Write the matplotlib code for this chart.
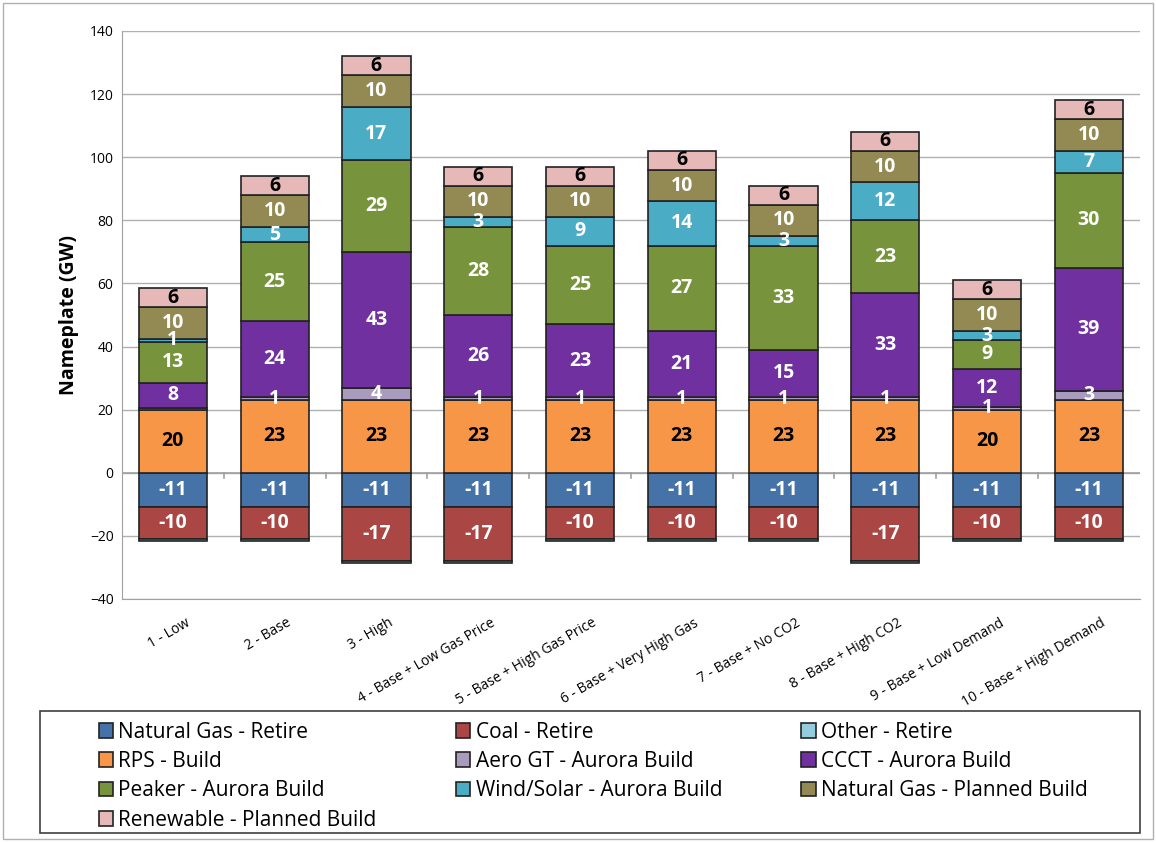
import matplotlib.pyplot as plt
import numpy as np
from matplotlib.patches import Rectangle
from matplotlib.transforms import ScaledTranslation

plt.rcParams['font.family'] = ['Open Sans', 'DejaVu Sans']

scenarios = ['1 - Low', '2 - Base', '3 - High', '4 - Base + Low Gas Price',
             '5 - Base + High Gas Price', '6 - Base + Very High Gas', '7 - Base + No CO2',
             '8 - Base + High CO2', '9 - Base + Low Demand', '10 - Base + High Demand']

# retirements (negative)
ng_retire = [-11, -11, -11, -11, -11, -11, -11, -11, -11, -11]
coal_retire = [-10, -10, -17, -17, -10, -10, -10, -17, -10, -10]
other_retire = [-0.5, -0.5, -0.5, -0.5, -0.5, -0.5, -0.5, -0.5, -0.5, -0.5]

# builds (positive)
rps_build = [20, 23, 23, 23, 23, 23, 23, 23, 20, 23]
aero_build = [0.5, 1, 4, 1, 1, 1, 1, 1, 1, 3]
ccct_build = [8, 24, 43, 26, 23, 21, 15, 33, 12, 39]
peaker_build = [13, 25, 29, 28, 25, 27, 33, 23, 9, 30]
wind_build = [1, 5, 17, 3, 9, 14, 3, 12, 3, 7]
ng_planned = [10, 10, 10, 10, 10, 10, 10, 10, 10, 10]
ren_planned = [6, 6, 6, 6, 6, 6, 6, 6, 6, 6]

neg_series = [
    ('Natural Gas - Retire', ng_retire, '#4572A7', 'white'),
    ('Coal - Retire', coal_retire, '#AA4643', 'white'),
    ('Other - Retire', other_retire, '#93CDDD', 'white'),
]
pos_series = [
    ('RPS - Build', rps_build, '#F79646', 'black'),
    ('Aero GT - Aurora Build', aero_build, '#A99BBD', 'white'),
    ('CCCT - Aurora Build', ccct_build, '#7030A0', 'white'),
    ('Peaker - Aurora Build', peaker_build, '#77933C', 'white'),
    ('Wind/Solar - Aurora Build', wind_build, '#4BACC6', 'white'),
    ('Natural Gas - Planned Build', ng_planned, '#938953', 'white'),
    ('Renewable - Planned Build', ren_planned, '#E6B9B8', 'black'),
]

fig = plt.figure(figsize=(11.56, 8.42), dpi=100)
ax = fig.add_axes([0.1055, 0.2886, 0.8805, 0.6746])

x = np.arange(len(scenarios))
w = 0.67
handles = {}

def draw(series):
    base = np.zeros(len(scenarios))
    for name, vals, col, tcol in series:
        vals = np.array(vals, dtype=float)
        bars = ax.bar(x, vals, w, bottom=base, color=col, edgecolor='#222222',
                      linewidth=1.2, zorder=3)
        handles[name] = bars
        for xi, b, v in zip(x, base, vals):
            if abs(v) >= 1:
                ax.text(xi, b + v / 2, f'{v:.0f}', ha='center', va='center',
                        fontsize=14, fontweight='bold', color=tcol, zorder=5)
        base = base + vals

draw(neg_series)
draw(pos_series)

ax.set_xlim(-0.5, len(scenarios) - 0.5)
ax.set_ylim(-40, 140)
ax.set_yticks(np.arange(-40, 141, 20))
ax.tick_params(axis='y', labelsize=10, length=0, pad=6)
ax.grid(axis='y', color='#b0b0b0', linewidth=1, zorder=0)
ax.axhline(0, color='#a0a0a0', linewidth=1.2, zorder=2)
for b in np.arange(0.5, len(scenarios) - 0.5, 1):
    ax.plot([b, b], [0, -1.8], color='#a0a0a0', linewidth=1.2, zorder=2)
for s in ['top', 'right']:
    ax.spines[s].set_visible(False)
ax.spines['left'].set_color('#a0a0a0')
ax.spines['bottom'].set_color('#a0a0a0')
ax.set_xticks(x)
ax.set_xticklabels(scenarios, rotation=30, ha='right', rotation_mode='anchor', fontsize=10)
ax.tick_params(axis='x', length=0, pad=12)
shift = ScaledTranslation(12 / 100, 0, fig.dpi_scale_trans)
for lbl in ax.get_xticklabels():
    lbl.set_transform(lbl.get_transform() + shift)
ax.set_ylabel('Nameplate (GW)', fontsize=14, fontweight='bold', labelpad=8)

order = ['Natural Gas - Retire', 'RPS - Build', 'Peaker - Aurora Build',
         'Renewable - Planned Build', 'Coal - Retire', 'Aero GT - Aurora Build',
         'Wind/Solar - Aurora Build', 'Other - Retire', 'CCCT - Aurora Build',
         'Natural Gas - Planned Build']
leg = fig.legend([handles[n] for n in order], order, ncol=3, loc='upper left',
                 bbox_to_anchor=(84 / 1156, 1 - 707 / 842),
                 fontsize=15, frameon=False, handlelength=0.7, handleheight=0.7,
                 handletextpad=0.25, labelspacing=0.4, columnspacing=3.8,
                 borderpad=0.2)

# legend box
fig.patches.append(Rectangle((40 / 1156, 9 / 842), 1100 / 1156, 122 / 842,
                             transform=fig.transFigure, fill=False,
                             edgecolor='#404040', linewidth=1.2))
# outer chart border
fig.patches.append(Rectangle((3 / 1156, 3 / 842), 1150 / 1156, 836 / 842,
                             transform=fig.transFigure, fill=False,
                             edgecolor='#b0b0b0', linewidth=1))

fig.savefig('out.png', dpi=100)
